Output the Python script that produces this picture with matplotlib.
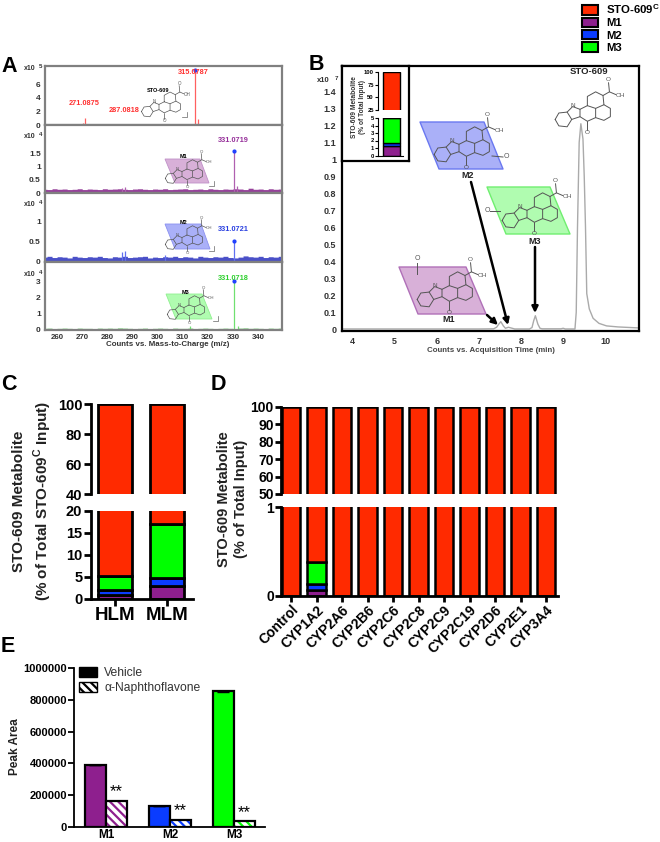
import numpy as np
import matplotlib
matplotlib.use("Agg")
import matplotlib.pyplot as plt
from matplotlib.patches import Patch, Polygon

plt.rcParams['font.family'] = ['Liberation Sans', 'DejaVu Sans']
plt.rcParams['mathtext.fontset'] = 'custom'
plt.rcParams['mathtext.bf'] = 'Liberation Sans:bold'
plt.rcParams['mathtext.rm'] = 'Liberation Sans:bold'
plt.rcParams['hatch.linewidth'] = 1.6

W, H = 660, 842
RED, PURPLE, BLUE, GREEN = '#ff2a00', '#8e1f8e', '#0a3cff', '#00ff00'

# panel A, spectra
mz_ticks = [260, 270, 280, 290, 300, 310, 320, 330, 340]
grass_mz = np.arange(255, 351, 2)
grass_m1 = [.14, .13, .16, .14, .15, .13, .14, .16, .13, .15, .14, .13, .16, .14, .15, .16,
            .14, .13, .15, .16, .14, .13, .15, .14, .16, .13, .14, .15, .16, .13, .14, .15,
            .13, .16, .14, .13, .15, .14, .16, .15, .13, .18, .14, .15, .13, .16, .14, .15]
grass_m2 = [.12, .14, .11, .13, .12, .1, .14, .12, .11, .13, .12, .14, .11, .1, .13, .12,
            .14, .11, .12, .13, .14, .1, .12, .11, .13, .12, .14, .11, .13, .12, .1, .14,
            .12, .11, .13, .12, .14, .11, .1, .12, .15, .13, .12, .14, .11, .13, .12, .14]
grass_m3 = [.1, .11, .09, .1, .11, .1, .09, .11, .1, .1, .09, .11, .1, .11, .1, .12,
            .11, .1, .09, .1, .11, .09, .1, .11, .1, .09, .11, .1, .1, .11, .09, .1,
            .11, .1, .09, .1, .11, .1, .09, .11, .12, .1, .11, .1, .09, .11, .1, .11]
peaks_sto_mz = [270.3, 271, 314.8, 316]
peaks_sto_i = [0.3, 1.0, 8.1, 0.85]
peaks_m1_mz = [286, 287, 330.6, 331.6]
peaks_m1_i = [0.2, 0.22, 1.6, 0.28]
peaks_m2_mz = [285.8, 287, 303, 330.6]
peaks_m2_i = [0.25, 0.26, 0.17, 0.51]
peaks_m3_mz = [313, 330.6, 332]
peaks_m3_i = [0.25, 3.03, 0.25]

# panel B, chromatogram
time_min = [3.75, 5, 7, 7.35, 7.42, 7.47, 7.52, 7.58, 7.63, 7.7, 7.76, 7.85, 8.2, 8.26, 8.3, 8.34,
            8.4, 8.45, 8.5, 8.95, 9, 9.05, 9.28, 9.31, 9.34, 9.38, 9.42, 9.47, 9.5, 9.53, 9.56,
            9.62, 9.71, 9.85, 10.03, 10.3, 10.8]
signal = [.002, .002, .002, .003, .012, .03, .045, .02, .006, .012, .008, .002, .002, .01, .05, .08,
          .03, .006, .003, .003, .006, .002, .002, .1, .6, 1.1, 1.21, 1.12, .9, .6, .21,
          .12, .065, .035, .02, .014, .008]
inset_m1, inset_m2, inset_m3, inset_sto = 1.3, 0.4, 3.3, 95.0

# panel C
c_names = ['HLM', 'MLM']
c_m1 = [1.0, 3.0]
c_m2 = [1.0, 1.8]
c_m3 = [3.2, 12.2]
c_sto = [94.8, 83.0]

# panel D
d_names = ['Control', 'CYP1A2', 'CYP2A6', 'CYP2B6', 'CYP2C6', 'CYP2C8', 'CYP2C9',
           'CYP2C19', 'CYP2D6', 'CYP2E1', 'CYP3A4']
d_m1 = [0, .07, 0, 0, 0, 0, 0, 0, 0, 0, 0]
d_m2 = [0, .06, 0, 0, 0, 0, 0, 0, 0, 0, 0]
d_m3 = [0, .25, 0, 0, 0, 0, 0, 0, 0, 0, 0]
d_sto = [100, 99.62, 100, 100, 100, 100, 100, 100, 100, 100, 100]

# panel E
e_names = ['M1', 'M2', 'M3']
e_vehicle = [390000, 130000, 855000]
e_vehicle_err = [2000, 1500, 4000]
e_naphtho = [165000, 45000, 35000]

# molecule outline, pixel offsets from the ring N=C bond
MOL_LINES = [
    [(-27, 7), (-23, 0), (-14, -1), (-9, 7), (-14, 15), (-23, 14), (-27, 7)],
    [(-14, -1), (-8, -7), (0, -4), (0, 4), (-9, 7)],
    [(0, -4), (8, -8), (8, -18), (17, -23), (25, -19), (26, -9), (17, -5), (8, -8)],
    [(26, -9), (33, -5), (33, 4), (26, 8), (17, 5), (17, -5)],
    [(17, 5), (8, 9), (0, 4)],
    [(8, 9), (8, 18)],
    [(25, -19), (32, -23), (31, -33)],
    [(32, -23), (39, -20)],
]


def axes_px(left, top, right, bottom, **kw):
    return plt.gcf().add_axes([left / W, 1 - bottom / H, (right - left) / W, (bottom - top) / H], **kw)


def draw_molecule(ov, cx, cy, s=1.0, lw=0.7):
    for line in MOL_LINES:
        pts = np.array(line) * s + [cx, cy]
        ov.plot(pts[:, 0], pts[:, 1], color='#555555', lw=lw, solid_capstyle='round')
    fs = 5 * s
    ov.text(cx + 8 * s, cy + 21 * s, 'O', fontsize=fs, color='#555555', ha='center', va='center')
    ov.text(cx + 31 * s, cy - 36 * s, 'O', fontsize=fs, color='#555555', ha='center', va='center')
    ov.text(cx + 44 * s, cy - 19 * s, 'OH', fontsize=fs, color='#555555', ha='center', va='center')
    ov.text(cx - 8 * s, cy - 8 * s, 'N', fontsize=fs, color='#555555', ha='center', va='center')


def stack_bars(ax, x, parts, width, lw=2.0):
    bottom = np.zeros(len(x))
    for vals, col in parts:
        ax.bar(x, vals, width, bottom=bottom, color=col, edgecolor='black', linewidth=lw)
        bottom = bottom + np.array(vals)


def style_broken(ax, lw=2.0, length=5, top=True):
    for s in ['top', 'right']:
        ax.spines[s].set_visible(False)
    ax.spines['left'].set_linewidth(lw)
    ax.spines['bottom'].set_linewidth(lw)
    ax.tick_params(width=lw, length=length, pad=1)
    if top:
        ax.spines['bottom'].set_visible(False)
        ax.tick_params(axis='x', bottom=False, labelbottom=False)


def spectrum(top, bottom, ylim_top, yticks, peaks_mz, peaks_i, col, exp, exp_y, grass=None, grass_col=None,
             dot=None, label=None, last=False):
    ax = axes_px(45, top, 282, bottom)
    ax.set_xlim(255.2, 349.5)
    ax.set_ylim(0, ylim_top)
    if grass is not None:
        ax.fill_between(grass_mz, 0, grass, step='mid', color=grass_col, lw=0, snap=False)
    ax.vlines(peaks_mz, 0, peaks_i, color=col, lw=0.9)
    if dot is not None:
        ax.plot([dot[0]], [dot[1]], 'o', color='#2040ff', ms=2)
    if label is not None:
        ax.text(label[0], label[1], label[2], color=label[3], fontsize=5.3, fontweight='bold', ha='center', va='center')
    ax.set_yticks(yticks)
    ax.set_yticklabels([f'{t:g}' for t in yticks], fontsize=6, fontweight='bold', color='#333333')
    ax.set_xticks(mz_ticks)
    if last:
        ax.set_xticklabels(mz_ticks, fontsize=5.7, fontweight='bold', color='#333333')
    else:
        ax.tick_params(axis='x', labelbottom=False)
    ax.tick_params(length=0, pad=3)
    for s in ax.spines.values():
        s.set_color('#808080')
        s.set_linewidth(1.6)
    fig = plt.gcf()
    fig.text(30 / W, 1 - exp_y / H, 'x10', fontsize=5, fontweight='bold', color='#333333', ha='center', va='center')
    fig.text(41 / W, 1 - (exp_y - 2) / H, str(exp), fontsize=4.5, fontweight='bold', color='#333333',
             ha='center', va='center')
    return ax


def main():
    fig = plt.figure(figsize=(W / 100, H / 100), dpi=100)
    fig.patch.set_facecolor('white')

    # panel A
    ax = spectrum(66, 125, 8.7, [0, 2, 4, 6], peaks_sto_mz, peaks_sto_i, '#ff6060', 5, 69,
                  dot=(314.8, 8.1), label=(314.4, 7.8, '315.0787', '#ff3030'))
    ax.text(270.7, 3.1, '271.0875', color='#ff3030', fontsize=5.3, fontweight='bold', ha='center', va='center')
    ax.text(286.5, 2.2, '287.0818', color='#ff3030', fontsize=5.3, fontweight='bold', ha='center', va='center')
    spectrum(125, 193, 2.57, [0, .5, 1, 1.5], peaks_m1_mz, peaks_m1_i, '#b060b0', 4, 137,
             grass_m1, '#96409a', dot=(330.6, 1.6), label=(330.3, 1.97, '331.0719', '#96309a'))
    spectrum(193, 262, 1.7, [0, .5, 1], peaks_m2_mz, peaks_m2_i, '#6070f0', 4, 205,
             grass_m2, '#4a50c8', dot=(330.6, 0.51), label=(330.3, 0.8, '331.0721', '#2a40e0'))
    spectrum(262, 330, 4.2, [0, 1, 2, 3], peaks_m3_mz, peaks_m3_i, '#70e070', 4, 274,
             grass_m3, '#3fae3f', dot=(330.6, 3.03), label=(330.3, 3.2, '331.0718', '#30d030'), last=True)

    # panel B
    ax_b = axes_px(342, 66, 639, 331)
    ax_b.plot(time_min, signal, color='#aaaaaa', lw=1.0)
    ax_b.set_xlim(3.75, 10.8)
    ax_b.set_ylim(-0.01, 1.55)
    ax_b.set_xticks([4, 5, 6, 7, 8, 9, 10])
    ax_b.set_xticklabels(['4', '5', '6', '7', '8', '9', '10'], fontsize=6.5, fontweight='bold', color='#333333')
    yt = [0, .1, .2, .3, .4, .5, .6, .7, .8, .9, 1, 1.1, 1.2, 1.3, 1.4]
    ax_b.set_yticks(yt)
    ax_b.set_yticklabels([f'{t:g}' for t in yt], fontsize=6.5, fontweight='bold', color='#333333')
    ax_b.tick_params(length=0, pad=4)
    for s in ax_b.spines.values():
        s.set_linewidth(1.6)
    ax_b.set_xlabel('Counts vs. Acquisition Time (min)', fontsize=5.7, fontweight='bold', color='#444444', labelpad=1)

    # inset of panel B
    frame = axes_px(342, 66, 409, 161)
    frame.set_xticks([])
    frame.set_yticks([])
    for s in frame.spines.values():
        s.set_linewidth(1.6)
    in_parts = [([inset_m1], PURPLE), ([inset_m2], BLUE), ([inset_m3], GREEN), ([inset_sto], RED)]
    in_top = axes_px(378, 72, 403, 110)
    in_low = axes_px(378, 118, 403, 155.5)
    for a, lim, ticks in [(in_top, (25, 100), [25, 50, 75, 100]), (in_low, (0, 5), [0, 1, 2, 3, 4, 5])]:
        stack_bars(a, [0], in_parts, 0.7, lw=1.0)
        a.set_xlim(-0.53, 0.47)
        a.set_ylim(*lim)
        a.set_yticks(ticks)
        a.set_yticklabels([str(t) for t in ticks], fontsize=4.2, fontweight='bold')
        style_broken(a, lw=0.8, length=2, top=a is in_top)
        a.set_xticks([])

    # panel C
    x = np.arange(len(c_names))
    c_parts = [(c_m1, PURPLE), (c_m2, BLUE), (c_m3, GREEN), (c_sto, RED)]
    c_top = axes_px(90.7, 404, 193, 494.3)
    c_low = axes_px(90.7, 510.7, 193, 599)
    for a, lim in [(c_top, (40, 100)), (c_low, (0, 20))]:
        stack_bars(a, x, c_parts, 0.67)
        a.set_xlim(-0.467, 1.5)
        a.set_ylim(*lim)
    c_top.set_yticks([40, 60, 80, 100])
    c_top.set_yticklabels(['40', '60', '80', '100'], fontsize=10.5, fontweight='bold')
    c_low.set_yticks([0, 5, 10, 15, 20])
    c_low.set_yticklabels(['0', '5', '10', '15', '20'], fontsize=10.5, fontweight='bold')
    c_low.set_xticks(x)
    c_low.set_xticklabels(c_names, fontsize=13.5, fontweight='bold')
    style_broken(c_top)
    style_broken(c_low, top=False)

    # panel D
    x = np.arange(len(d_names))
    d_parts = [(d_m1, PURPLE), (d_m2, BLUE), (d_m3, GREEN), (d_sto, RED)]
    d_top = axes_px(280.7, 406.7, 558, 494)
    d_low = axes_px(280.7, 507.3, 558, 595.7)
    for a, lim in [(d_top, (50, 100)), (d_low, (0, 1))]:
        for i in x:
            stack_bars(a, [i], [([p[0][i]], p[1]) for p in d_parts if p[0][i] > 0], 0.72, lw=1.8)
        a.set_xlim(-0.41, 10.47)
        a.set_ylim(*lim)
    d_top.set_yticks([50, 60, 70, 80, 90, 100])
    d_top.set_yticklabels(['50', '60', '70', '80', '90', '100'], fontsize=10, fontweight='bold')
    d_low.set_yticks([0, 1])
    d_low.set_yticklabels(['0', '1'], fontsize=10, fontweight='bold')
    d_low.set_xticks(x)
    d_low.set_xticklabels(d_names, fontsize=10, fontweight='bold', rotation=45, ha='right', rotation_mode='anchor')
    style_broken(d_top, length=4)
    style_broken(d_low, length=4, top=False)

    # panel E
    ax_e = axes_px(74, 668.3, 265, 826.7)
    pos = np.arange(len(e_names))
    cols = [PURPLE, BLUE, GREEN]
    w = 1 / 3
    ax_e.bar(pos - w / 2, e_vehicle, w, color=cols, edgecolor='black', linewidth=1.6,
             yerr=e_vehicle_err, ecolor='black', error_kw=dict(lw=1, capsize=4, capthick=1))
    ax_e.bar(pos + w / 2, e_naphtho, w, color='white', edgecolor=cols, hatch='\\\\\\\\', linewidth=0)
    ax_e.bar(pos + w / 2, e_naphtho, w, fill=False, edgecolor='black', linewidth=1.6)
    for p, v in zip(pos, e_naphtho):
        ax_e.text(p + w / 2, v + 8000, '**', fontsize=12, ha='center', va='bottom', linespacing=1)
    ax_e.set_xlim(-0.5, 2.484)
    ax_e.set_ylim(0, 1000000)
    ax_e.set_xticks(pos)
    ax_e.set_xticklabels(e_names, fontsize=8.5, fontweight='bold')
    e_ticks = [0, 200000, 400000, 600000, 800000, 1000000]
    ax_e.set_yticks(e_ticks)
    ax_e.set_yticklabels([str(t) for t in e_ticks], fontsize=8, fontweight='bold')
    ax_e.tick_params(axis='y', width=1.3, length=4, pad=1)
    ax_e.tick_params(axis='x', length=0, pad=2)
    for s in ['top', 'right']:
        ax_e.spines[s].set_visible(False)
    ax_e.spines['left'].set_linewidth(1.3)
    ax_e.spines['bottom'].set_linewidth(1.3)
    handles = [Patch(facecolor='black', edgecolor='black', label='Vehicle'),
               Patch(facecolor='white', edgecolor='black', hatch='\\\\\\\\', label='α-Naphthoflavone')]
    ax_e.legend(handles=handles, loc='upper left', bbox_to_anchor=(0.026, 1.01), frameon=False, fontsize=8.7,
                handlelength=1.5, handleheight=0.87, handletextpad=0.58, labelspacing=0.3, borderpad=0,
                borderaxespad=0, labelcolor='#333333')

    # overlay in pixel coordinates for labels, structures and arrows
    ov = fig.add_axes([0, 0, 1, 1], zorder=10)
    ov.set_xlim(0, W)
    ov.set_ylim(H, 0)
    ov.axis('off')
    ov.patch.set_alpha(0)

    for name, px, py in [('A', 9, 66), ('B', 316, 65), ('C', 9, 385), ('D', 218, 385), ('E', 8, 647)]:
        ov.text(px, py, name, fontsize=15.5, fontweight='bold', ha='center', va='center')

    ov.text(323, 81, 'x10', fontsize=5.5, fontweight='bold', color='#333333', ha='center', va='center')
    ov.text(336, 79, '7', fontsize=4.5, fontweight='bold', color='#333333', ha='center', va='center')
    ov.text(168, 344, 'Counts vs. Mass-to-Charge (m/z)', fontsize=5.7, fontweight='bold', color='#333333',
            ha='center', va='center')

    ov.text(358, 107, 'STO-609 Metabolite\n(% of Total Input)', fontsize=4.8, fontweight='bold', rotation=90,
            ha='center', va='center', color='#333333')
    ov.text(33, 501, 'STO-609 Metabolite\n(% of Total STO-609$^{\\mathbf{C}}$ Input)', fontsize=11, fontweight='bold',
            rotation=90, ha='center', va='center', color='#222222', linespacing=1.35)
    ov.text(232.5, 499, 'STO-609 Metabolite\n(% of Total Input)', fontsize=10.5, fontweight='bold',
            rotation=90, ha='center', va='center', color='#222222', linespacing=1.25)
    ov.text(15, 747, 'Peak Area', fontsize=8.5, fontweight='bold', rotation=90, ha='center', va='center', color='#222222')

    # parallelograms in panel B
    para_b = [('M2', [(420, 122), (484, 122), (503, 169), (439, 169)], '#aab0f8', '#6a78f0', (459, 148), (468, 176)),
              ('M3', [(487, 187), (550, 187), (570, 234), (506, 234)], '#b0fcb0', '#70ee70', (527, 214), (535, 241)),
              ('M1', [(399, 267), (466, 267), (486, 314), (418, 314)], '#d8b0d8', '#b070b8', (442, 293), (449, 319))]
    for name, pts, fc, ec, mol, lab in para_b:
        ov.add_patch(Polygon(pts, closed=True, facecolor=fc, edgecolor=ec, lw=1, joinstyle='round'))
        draw_molecule(ov, mol[0], mol[1], 0.92)
        ov.text(lab[0], lab[1], name, fontsize=6.5, fontweight='bold', ha='center', va='center', color='#222222')
    draw_molecule(ov, 580, 113, 0.92)
    ov.text(589, 71, 'STO-609', fontsize=6.8, fontweight='bold', ha='center', va='center', color='#222222')
    ov.plot([492, 503], [156, 157], color='#555555', lw=0.7)
    ov.text(506, 157, 'O', fontsize=5, color='#555555', ha='center', va='center')
    ov.plot([490, 500], [211, 211], color='#555555', lw=0.7)
    ov.text(487, 211, 'O', fontsize=5, color='#555555', ha='center', va='center')
    ov.plot([417, 417], [263, 274], color='#555555', lw=0.7)
    ov.text(417, 259, 'O', fontsize=5, color='#555555', ha='center', va='center')

    for start, end in [((487, 315), (498, 325)), ((471, 182), (508, 325)), ((535, 247), (535, 313))]:
        ov.annotate('', xy=end, xytext=start, arrowprops=dict(arrowstyle='-|>', color='black', lw=1.8,
                    mutation_scale=9, shrinkA=0, shrinkB=0))

    # parallelograms in panel A
    para_a = [('M1', [(165, 159), (200, 159), (209, 183), (175, 183)], '#d8b0d8', '#c090c8', (182, 172), (183, 157), (213, 185)),
              ('M2', [(165, 224), (201, 224), (210, 249), (175, 249)], '#aab0f8', '#8a90f0', (182, 238), (183, 222), (213, 250)),
              ('M3', [(166, 294), (202, 294), (212, 319), (176, 319)], '#b0fcb0', '#90f090', (184, 308), (185, 292), (217, 320))]
    for name, pts, fc, ec, mol, lab, br in para_a:
        ov.add_patch(Polygon(pts, closed=True, facecolor=fc, edgecolor=ec, lw=0.6))
        draw_molecule(ov, mol[0], mol[1] + 2, 0.62, lw=0.5)
        ov.text(lab[0], lab[1], name, fontsize=4, fontweight='bold', ha='center', va='center')
        ov.plot([br[0] - 4, br[0] + 1, br[0] + 1], [br[1] + 1, br[1] + 1, br[1] - 4], color='#666666', lw=0.5)
    draw_molecule(ov, 159, 107, 0.65, lw=0.5)
    ov.text(158, 91, 'STO-609', fontsize=4, fontweight='bold', ha='center', va='center')
    ov.plot([182, 187, 187], [117, 117, 112], color='#666666', lw=0.5)

    # top legend
    legend_handles = [Patch(facecolor=RED, edgecolor='black', lw=1.5, label='STO-609$^{\\mathbf{C}}$'),
                      Patch(facecolor=PURPLE, edgecolor='black', lw=1.5, label='M1'),
                      Patch(facecolor=BLUE, edgecolor='black', lw=1.5, label='M2'),
                      Patch(facecolor=GREEN, edgecolor='black', lw=1.5, label='M3')]
    fig.legend(handles=legend_handles, loc='upper left', bbox_to_anchor=(582 / W, 1 - 2 / H), frameon=False,
               prop={'size': 8.2, 'weight': 'bold'}, handlelength=1.4, handleheight=0.9, handletextpad=0.7,
               labelspacing=0.15, borderpad=0, borderaxespad=0)

    fig.savefig('out.png', dpi=100)


if __name__ == "__main__":
    main()
